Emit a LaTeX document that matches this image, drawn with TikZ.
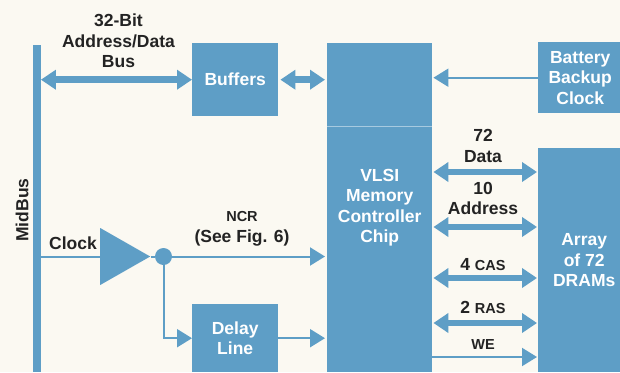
\documentclass[tikz,border=0pt]{standalone}
\usepackage{fontspec}
\setmainfont{Liberation Sans}
\usetikzlibrary{arrows.meta,shapes.geometric}
\definecolor{chipblue}{RGB}{94,158,198}
\definecolor{paper}{RGB}{251,249,242}
\definecolor{ink}{RGB}{35,35,35}

\begin{document}
\begin{tikzpicture}[x=1pt,y=-1pt,
  blk/.style={fill=chipblue, draw=none, inner sep=0pt, anchor=north west,
              text=white, align=center, font=\bfseries\fontsize{17.5}{20.5}\selectfont},
  lab/.style={text=ink, align=center, inner sep=0pt, font=\bfseries\fontsize{17.5}{20.5}\selectfont},
  smalllab/.style={text=ink, align=center, inner sep=0pt, font=\bfseries\fontsize{14.5}{17}\selectfont},
  bus/.style={draw=chipblue, line width=6.5pt,
              {Triangle[width=19pt,length=15pt]}-{Triangle[width=19pt,length=15pt]}},
  wire/.style={draw=chipblue, line width=2pt},
  tip/.style={-{Triangle[width=18pt,length=15pt]}},
  amp/.style={isosceles triangle, isosceles triangle stretches, fill=chipblue,
              draw=none, inner sep=0pt, minimum width=57pt, minimum height=50pt}
]
% page and paper
\useasboundingbox (0,0) rectangle (620,372);
\fill[paper] (0,0) rectangle (620,372);

% blocks
\node[blk, minimum width=7.5pt, minimum height=327pt] (midbus) at (33,45) {};
\node[blk, minimum width=86pt, minimum height=73pt] (buf) at (192,43) {Buffers};
\node[blk, minimum width=105pt, minimum height=329pt] (vlsi) at (327,43)
  {VLSI\\Memory\\Controller\\Chip};
\node[blk, minimum width=84pt, minimum height=71pt] (batt) at (538,42)
  {Battery\\Backup\\Clock};
\node[blk, minimum width=92pt, minimum height=224pt] (arr) at (538,148)
  {Array\\of 72\\DRAMs};
\node[blk, minimum width=86pt, minimum height=68pt] (delay) at (192,304)
  {Delay\\Line};
\draw[chipblue!55!white, line width=0.8pt] (vlsi.west |- 0,126) -- (vlsi.east |- 0,126);

% clock buffer and junction
\node[amp, anchor=west] (clkamp) at (100,256.5) {};
\node[circle, fill=chipblue, minimum size=17pt, inner sep=0pt] (jn) at (163.5,256.5) {};

% labels
\node[lab, rotate=90] (mbl) at (22,210) {MidBus};
\node[lab] (busl) at (118.5,41) {32-Bit\\Address/Data\\Bus};
\node[lab] (clkl) at (73,243) {Clock};
\node[smalllab] (ncrl) at (242,217) {NCR};
\node[lab] (seel) at (242,238) {(See Fig. 6)};
\node[lab] (datal) at (483,146) {72\\Data};
\node[lab] (addrl) at (483,198.5) {10\\Address};
\node[lab] (casl) at (483,265) {4 {\fontsize{14.5}{17}\selectfont CAS}};
\node[lab] (rasl) at (483,307) {2 {\fontsize{14.5}{17}\selectfont RAS}};
\node[smalllab] (wel) at (483,345) {WE};

% buses
\draw[bus] (buf.west -| midbus.east) -- (buf.west);
\draw[bus, shorten <=2pt, shorten >=2pt] (buf.east) -- (buf.east -| vlsi.west);
\draw[bus, shorten <=1pt, shorten >=1pt] (vlsi.east |- 0,172) -- (arr.west |- 0,172);
\draw[bus, shorten <=1pt, shorten >=1pt] (vlsi.east |- 0,227) -- (arr.west |- 0,227);
\draw[bus, shorten <=1pt, shorten >=1pt] (vlsi.east |- 0,278) -- (arr.west |- 0,278);
\draw[bus, shorten <=1pt, shorten >=1pt] (vlsi.east |- 0,323) -- (arr.west |- 0,323);

% single lines
\draw[wire, tip, shorten >=1pt] (batt.west) -- (batt.west -| vlsi.east);
\draw[wire, tip, shorten >=1pt] (vlsi.east |- 0,357) -- (arr.west |- 0,357);
\draw[wire] (clkamp.west -| midbus.east) -- (clkamp.west);
\draw[wire] (clkamp.apex) -- (jn);
\draw[wire, tip, shorten >=2pt] (jn) -- (jn -| vlsi.west);
\draw[wire, tip] (jn) |- (delay.west);
\draw[wire, tip, shorten >=2pt] (delay.east) -- (delay.east -| vlsi.west);
\end{tikzpicture}
\end{document}
